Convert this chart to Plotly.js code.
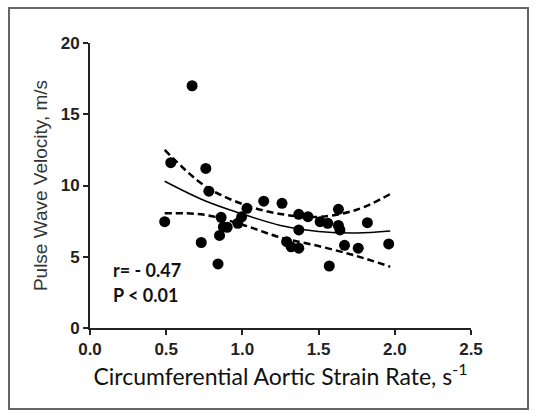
<!DOCTYPE html>
<html>
<head>
<meta charset="utf-8">
<script src="https://cdn.plot.ly/plotly-3.0.1.min.js"></script>
<style>html,body{margin:0;padding:0;background:#fff;}#chart{width:560px;height:420px;}</style>
</head>
<body>
<div id="chart"></div>
<script>
// Scatter data: circumferential aortic strain rate (s^-1) vs pulse wave velocity (m/s)
var strainRate = [0.49, 0.53, 0.67, 0.73, 0.76, 0.78, 0.84, 0.85, 0.86, 0.875, 0.90, 0.97, 0.995, 1.03, 1.14,
                  1.26, 1.29, 1.32, 1.37, 1.37, 1.37, 1.43, 1.51, 1.56, 1.57, 1.63, 1.63, 1.64, 1.67, 1.76, 1.82, 1.96];
var pwv = [7.46, 11.6, 17.0, 6.0, 11.2, 9.6, 4.5, 6.5, 7.77, 7.1, 7.07, 7.35, 7.8, 8.4, 8.9,
           8.75, 6.06, 5.7, 7.98, 6.88, 5.6, 7.81, 7.46, 7.35, 4.35, 8.33, 7.2, 6.88, 5.8, 5.6, 7.39, 5.9];

// Fitted curve and 95% confidence bands
var fitX = [0.49, 0.75, 1.0, 1.25, 1.5, 1.75, 1.97];
var fitY = [10.3, 8.95, 8.0, 7.2, 6.78, 6.66, 6.8];
var upperY = [12.5, 10.0, 8.7, 8.0, 7.8, 8.3, 9.4];
var lowerY = [8.05, 7.95, 7.25, 6.35, 5.75, 5.05, 4.3];

var xTicks = [0, 0.5, 1.0, 1.5, 2.0, 2.5];
var xTickText = ['0.0', '0.5', '1.0', '1.5', '2.0', '2.5'];
var yTicks = [0, 5, 10, 15, 20];
var yTickText = ['0', '5', '10', '15', '20'];

function bold(arr) { return arr.map(function (s) { return '<b>' + s + '</b>'; }); }

var traces = [
  {x: fitX, y: upperY, mode: 'lines', line: {color: '#000', width: 2.5, dash: '7px,4px', shape: 'spline'}, hoverinfo: 'skip'},
  {x: fitX, y: lowerY, mode: 'lines', line: {color: '#000', width: 2.5, dash: '7px,4px', shape: 'spline'}, hoverinfo: 'skip'},
  {x: fitX, y: fitY, mode: 'lines', line: {color: '#000', width: 1.5, shape: 'spline'}, hoverinfo: 'skip'},
  {x: strainRate, y: pwv, mode: 'markers', marker: {color: '#000', size: 11}}
];

var tickFontX = {family: 'Liberation Sans', size: 17, color: '#222', weight: 700};
var tickFontY = {family: 'Liberation Sans', size: 17, color: '#222', weight: 700};

var layout = {
  width: 560, height: 420,
  margin: {l: 90, r: 89, t: 43, b: 92},
  paper_bgcolor: '#fff', plot_bgcolor: '#fff',
  showlegend: false,
  xaxis: {
    range: [0, 2.5], tickvals: xTicks, ticktext: bold(xTickText),
    showgrid: false, zeroline: false, showline: true, linecolor: '#222', linewidth: 2,
    ticks: 'outside', ticklen: 5, tickwidth: 2, tickcolor: '#222',
    tickfont: tickFontX,
    title: {text: 'Circumferential Aortic Strain Rate, s<sup>-1</sup>', standoff: 10,
            font: {family: 'Lato', size: 23, color: '#111'}}
  },
  yaxis: {
    range: [0, 20], tickvals: yTicks, ticktext: bold(yTickText),
    showgrid: false, zeroline: false, showline: true, linecolor: '#222', linewidth: 2,
    ticks: 'outside', ticklen: 5, tickwidth: 2, tickcolor: '#222',
    tickfont: tickFontY,
    title: {text: 'Pulse Wave Velocity, m/s', standoff: 8,
            font: {family: 'Liberation Sans', size: 19, color: '#333'}}
  },
  annotations: [
    {x: 0.14, y: 4.07, xref: 'x', yref: 'y', xanchor: 'left', yanchor: 'middle', showarrow: false,
     text: '<b>r= - 0.47</b>', font: {family: 'Lato', size: 18, color: '#111'}},
    {x: 0.14, y: 2.3, xref: 'x', yref: 'y', xanchor: 'left', yanchor: 'middle', showarrow: false,
     text: '<b>P &lt; 0.01</b>', font: {family: 'Lato', size: 18, color: '#111'}}
  ],
  shapes: [
    {type: 'rect', xref: 'paper', yref: 'paper', x0: -0.2126, x1: 1.1496, y0: -0.2842, y1: 1.1228,
     line: {color: '#666', width: 2}, fillcolor: 'rgba(0,0,0,0)'}
  ]
};

Plotly.newPlot('chart', traces, layout, {displayModeBar: false, staticPlot: true});
</script>
</body>
</html>
